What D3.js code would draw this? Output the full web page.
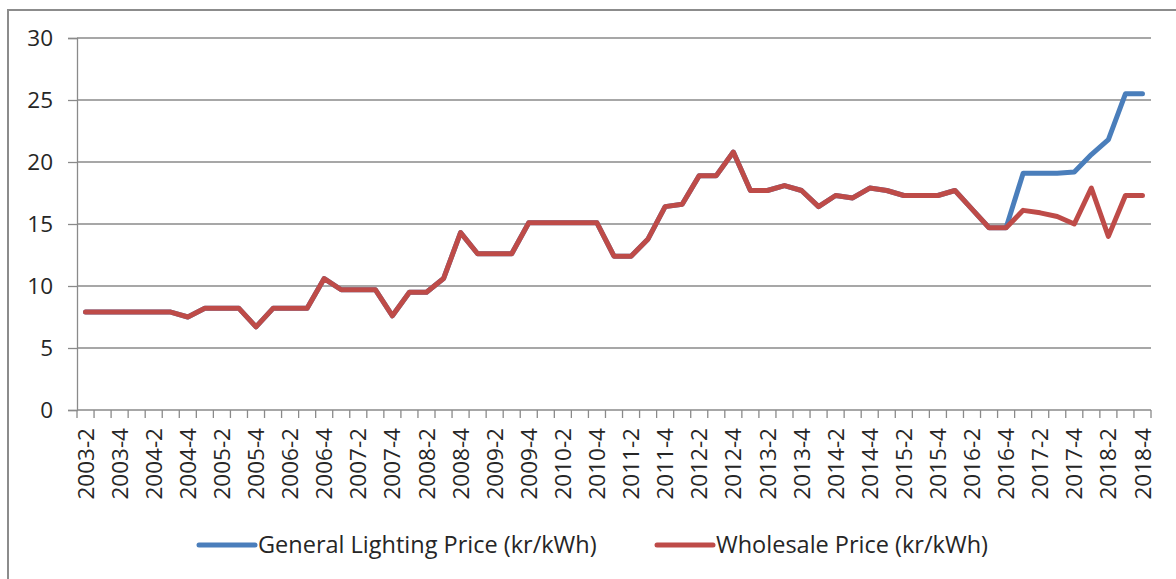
<!DOCTYPE html>
<html>
<head>
<meta charset="utf-8">
<script src="https://cdn.jsdelivr.net/npm/d3@7"></script>
<style>
  body { margin: 0; background: #fff; }
  text { font-family: "Open Sans", sans-serif; fill: #262626; }
</style>
</head>
<body>
<div class="canvas"></div>
<script>
// quarters, 2003-2 .. 2018-4
const quarters = [
  '2003-2','2003-3','2003-4',
  '2004-1','2004-2','2004-3','2004-4',
  '2005-1','2005-2','2005-3','2005-4',
  '2006-1','2006-2','2006-3','2006-4',
  '2007-1','2007-2','2007-3','2007-4',
  '2008-1','2008-2','2008-3','2008-4',
  '2009-1','2009-2','2009-3','2009-4',
  '2010-1','2010-2','2010-3','2010-4',
  '2011-1','2011-2','2011-3','2011-4',
  '2012-1','2012-2','2012-3','2012-4',
  '2013-1','2013-2','2013-3','2013-4',
  '2014-1','2014-2','2014-3','2014-4',
  '2015-1','2015-2','2015-3','2015-4',
  '2016-1','2016-2','2016-3','2016-4',
  '2017-1','2017-2','2017-3','2017-4',
  '2018-1','2018-2','2018-3','2018-4'
];

const lightingPrice = [
  7.9, 7.9, 7.9, 7.9, 7.9, 7.9, 7.5, 8.2, 8.2, 8.2, 6.7,
  8.2, 8.2, 8.2, 10.6, 9.7, 9.7, 9.7, 7.6, 9.5, 9.5, 10.6,
  14.3, 12.6, 12.6, 12.6, 15.1, 15.1, 15.1, 15.1, 15.1, 12.4, 12.4,
  13.8, 16.4, 16.6, 18.9, 18.9, 20.8, 17.7, 17.7, 18.1, 17.7,
  16.4, 17.3, 17.1, 17.9, 17.7, 17.3, 17.3, 17.3, 17.7, 16.2,
  14.7, 14.7, 19.1, 19.1, 19.1, 19.2, 20.6, 21.8, 25.5, 25.5
];

const wholesalePrice = [
  7.9, 7.9, 7.9, 7.9, 7.9, 7.9, 7.5, 8.2, 8.2, 8.2, 6.7,
  8.2, 8.2, 8.2, 10.6, 9.7, 9.7, 9.7, 7.6, 9.5, 9.5, 10.6,
  14.3, 12.6, 12.6, 12.6, 15.1, 15.1, 15.1, 15.1, 15.1, 12.4, 12.4,
  13.8, 16.4, 16.6, 18.9, 18.9, 20.8, 17.7, 17.7, 18.1, 17.7,
  16.4, 17.3, 17.1, 17.9, 17.7, 17.3, 17.3, 17.3, 17.7, 16.2,
  14.7, 14.7, 16.1, 15.9, 15.6, 15.0, 17.9, 14.0, 17.3, 17.3
];

const yTicks = [0, 5, 10, 15, 20, 25, 30];

const series = [
  {name: 'General Lighting Price (kr/kWh)', values: lightingPrice, color: '#4a7ebb'},
  {name: 'Wholesale Price (kr/kWh)', values: wholesalePrice, color: '#be4b48'}
];

const width = 1176, height = 579;
const margin = {top: 38, left: 77, right: 25, bottom: 169};

const svg = d3.select('.canvas')
  .append('svg')
    .attr('width', width)
    .attr('height', height);

// chart frame (runs off the right and bottom edges)
svg.append('rect')
  .attr('x', 8).attr('y', 10)
  .attr('width', 1200).attr('height', 600)
  .attr('fill', 'none')
  .attr('stroke', '#8c8c8c')
  .attr('stroke-width', 2);

const x = d3.scaleBand()
  .domain(quarters)
  .range([margin.left, width - margin.right]);

const y = d3.scaleLinear()
  .domain([0, 30])
  .range([height - margin.bottom, margin.top]);

const gridColor = '#8a8a8a';

// gridlines
svg.append('g')
  .selectAll('line')
  .data(yTicks)
  .enter().append('line')
    .attr('x1', margin.left)
    .attr('x2', width - margin.right)
    .attr('y1', d => y(d))
    .attr('y2', d => y(d))
    .attr('stroke', gridColor)
    .attr('stroke-width', 1.3);

// y axis
const yAxis = d3.axisLeft(y)
  .tickValues(yTicks)
  .tickSize(9)
  .tickPadding(15);

const yGroup = svg.append('g')
  .attr('transform', `translate(${margin.left}, 0)`)
  .call(yAxis);
yGroup.select('.domain').attr('stroke', gridColor).attr('stroke-width', 1.3);
yGroup.selectAll('.tick line').attr('stroke', gridColor).attr('stroke-width', 1.3);
yGroup.selectAll('.tick text')
  .style('font-family', '"Open Sans", sans-serif')
  .style('font-size', '22.5px')
  .attr('fill', '#262626');

// x axis: tick marks between categories
const bottom = height - margin.bottom;
const edges = quarters.map(q => x(q)).concat([x.range()[1]]);
const xGroup = svg.append('g');
xGroup.selectAll('line.tk')
  .data(edges)
  .enter().append('line')
    .attr('class', 'tk')
    .attr('x1', d => d).attr('x2', d => d)
    .attr('y1', bottom).attr('y2', bottom + 8)
    .attr('stroke', gridColor)
    .attr('stroke-width', 1.3);

// labels every second quarter, rotated
const labelled = quarters.filter((q, i) => i % 2 === 0);
xGroup.selectAll('text')
  .data(labelled)
  .enter().append('text')
    .attr('transform', d => `translate(${x(d) + x.bandwidth() / 2}, ${bottom + 18}) rotate(-90)`)
    .attr('text-anchor', 'end')
    .attr('dy', '0.36em')
    .style('font-size', '22.5px')
    .text(d => d);

// lines
const line = d3.line()
  .x((d, i) => x(quarters[i]) + x.bandwidth() / 2)
  .y(d => y(d));

svg.append('g')
  .selectAll('path')
  .data(series)
  .enter().append('path')
    .attr('d', d => line(d.values))
    .attr('fill', 'none')
    .attr('stroke', d => d.color)
    .attr('stroke-width', 5)
    .attr('stroke-linejoin', 'round')
    .attr('stroke-linecap', 'round');

// legend
const legendX = [199, 657];
const legend = svg.append('g')
  .selectAll('g')
  .data(series)
  .enter().append('g')
    .attr('transform', (d, i) => `translate(${legendX[i]}, 545)`);

legend.append('line')
  .attr('x1', 0).attr('x2', 56)
  .attr('stroke', d => d.color)
  .attr('stroke-width', 5)
  .attr('stroke-linecap', 'round');

legend.append('text')
  .attr('x', 59)
  .attr('dy', '0.36em')
  .style('font-size', '23.5px')
  .text(d => d.name);
</script>
</body>
</html>
